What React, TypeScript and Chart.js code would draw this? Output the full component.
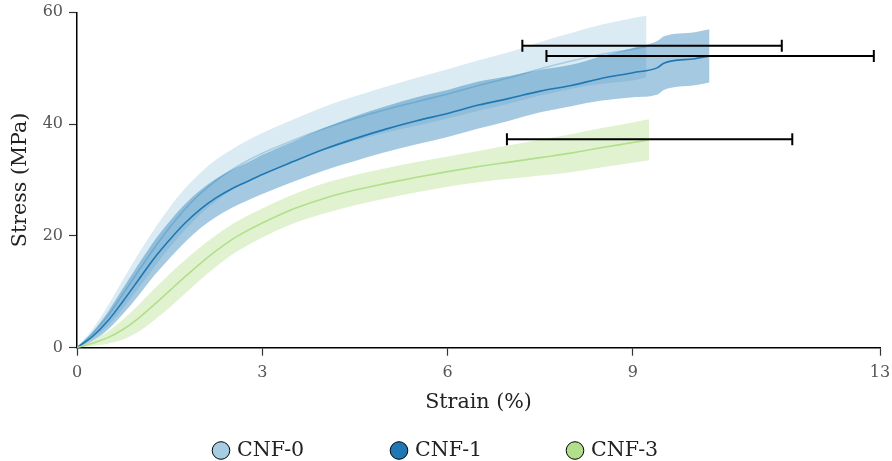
import React, { useEffect, useRef } from 'react';
import { Chart, registerables } from 'chart.js';

Chart.register(...registerables);

// ---------- data ----------
const SERIES_NAMES = ['CNF-0', 'CNF-1', 'CNF-3'];

const STRAIN_CNF0 = [0, 0.25, 0.5, 0.75, 1, 1.25, 1.5, 1.75, 2, 2.25, 2.5, 2.75, 3, 3.5, 4, 4.5, 5, 5.5, 6, 6.5, 7, 7.5, 8, 8.5, 9, 9.22];
const MEAN_CNF0 = [0, 2.5, 5.7, 9.7, 13.8, 17.8, 21.5, 24.8, 27.6, 29.9, 31.8, 33.4, 34.8, 37.1, 39.2, 41.0, 42.6, 44.0, 45.4, 46.9, 48.3, 49.9, 51.3, 52.5, 53.4, 53.9];
const SD_CNF0 = [0, 0.8, 1.8, 2.6, 3.1, 3.4, 3.6, 3.7, 3.7, 3.7, 3.6, 3.6, 3.6, 3.7, 3.9, 4.0, 4.1, 4.3, 4.4, 4.5, 4.6, 4.8, 5.0, 5.3, 5.6, 5.5];

const STRAIN_CNF1 = [0, 0.25, 0.5, 0.75, 1, 1.25, 1.5, 1.75, 2, 2.25, 2.5, 2.75, 3, 3.5, 4, 4.5, 5, 5.5, 6, 6.5, 7, 7.5, 8, 8.5, 9, 9.4, 9.5, 10, 10.24];
const MEAN_CNF1 = [0, 2.0, 4.8, 8.4, 12.2, 16.0, 19.3, 22.3, 24.8, 26.8, 28.4, 29.7, 31.0, 33.3, 35.5, 37.4, 39.1, 40.6, 41.9, 43.4, 44.6, 45.9, 46.9, 48.2, 49.2, 50.1, 50.9, 51.7, 52.2];
const SD_CNF1 = [0, 0.8, 1.6, 2.3, 2.8, 3.1, 3.3, 3.4, 3.4, 3.4, 3.4, 3.4, 3.5, 3.6, 3.8, 4.0, 4.1, 4.2, 4.2, 4.2, 4.0, 3.8, 3.7, 4.0, 4.4, 4.8, 4.8, 4.75, 4.75];

const STRAIN_CNF3 = [0, 0.25, 0.5, 0.75, 1, 1.25, 1.5, 1.75, 2, 2.25, 2.5, 2.75, 3, 3.5, 4, 4.5, 5, 5.5, 6, 6.5, 7, 7.5, 8, 8.5, 9, 9.26];
const MEAN_CNF3 = [0, 0.8, 1.8, 3.3, 5.3, 7.7, 10.2, 12.7, 15.1, 17.3, 19.3, 20.9, 22.3, 24.8, 26.7, 28.2, 29.4, 30.5, 31.5, 32.4, 33.2, 34.0, 34.8, 35.8, 36.7, 37.2];
const SD_CNF3 = [0, 0.5, 1.1, 1.8, 2.4, 2.8, 3.0, 3.0, 2.9, 2.8, 2.7, 2.65, 2.6, 2.6, 2.7, 2.7, 2.7, 2.7, 2.7, 2.8, 3.0, 3.2, 3.4, 3.5, 3.6, 3.65];

// failure points: mean strain at break, its std, and stress at break
const FAIL_STRAIN = [9.31, 10.25, 9.27];
const FAIL_STRAIN_SD = [2.1, 2.65, 2.31];
const FAIL_STRESS = [54.0, 52.2, 37.3];

const X_TICKS = [0, 3, 6, 9, 13];
const Y_TICKS = [0, 20, 40, 60];

// ---------- style ----------
const COLORS = ['#a6cee3', '#1f78b4', '#b2df8a'];
const BAND_COLORS = ['rgba(166,206,227,0.4)', 'rgba(31,120,180,0.4)', 'rgba(178,223,138,0.4)'];
const FONT = 'DejaVu Serif';
const LEGEND_CX = [221, 399, 575];
const LEGEND_BASELINE = 456;
const LEGEND_DOT_Y = 450.5;

const SERIES = [
  { strain: STRAIN_CNF0, mean: MEAN_CNF0, sd: SD_CNF0 },
  { strain: STRAIN_CNF1, mean: MEAN_CNF1, sd: SD_CNF1 },
  { strain: STRAIN_CNF3, mean: MEAN_CNF3, sd: SD_CNF3 },
];

function buildDatasets() {
  const ds: any[] = [];
  SERIES.forEach((s, i) => {
    const base = (SERIES.length - i) * 3;
    const upper = s.strain.map((x, k) => ({ x, y: s.mean[k] + s.sd[k] }));
    const lower = s.strain.map((x, k) => ({ x, y: s.mean[k] - s.sd[k] }));
    const mean = s.strain.map((x, k) => ({ x, y: s.mean[k] }));
    const common = { pointRadius: 0, pointHoverRadius: 0, cubicInterpolationMode: 'monotone' };
    ds.push({ ...common, label: SERIES_NAMES[i] + ' upper', data: upper, borderWidth: 0, borderColor: 'rgba(0,0,0,0)', backgroundColor: BAND_COLORS[i], fill: '+1', order: base + 2 });
    ds.push({ ...common, label: SERIES_NAMES[i] + ' lower', data: lower, borderWidth: 0, borderColor: 'rgba(0,0,0,0)', fill: false, order: base + 1 });
    ds.push({ ...common, label: SERIES_NAMES[i], data: mean, borderWidth: 1.6, borderColor: COLORS[i], fill: false, order: base });
  });
  return ds;
}

const errorBarPlugin = {
  id: 'errorBars',
  afterDatasetsDraw(chart: any) {
    const { ctx, scales } = chart;
    const xs = scales.x;
    const ys = scales.y;
    ctx.save();
    ctx.strokeStyle = '#000';
    ctx.lineWidth = 2;
    FAIL_STRAIN.forEach((m, i) => {
      const yy = ys.getPixelForValue(FAIL_STRESS[i]);
      const x0 = xs.getPixelForValue(m - FAIL_STRAIN_SD[i]);
      const x1 = xs.getPixelForValue(m + FAIL_STRAIN_SD[i]);
      ctx.beginPath();
      ctx.moveTo(x0, yy);
      ctx.lineTo(x1, yy);
      ctx.moveTo(x0, yy - 6);
      ctx.lineTo(x0, yy + 6);
      ctx.moveTo(x1, yy - 6);
      ctx.lineTo(x1, yy + 6);
      ctx.stroke();
    });
    ctx.restore();
  },
};

const legendPlugin = {
  id: 'dotLegend',
  afterDraw(chart: any) {
    const { ctx } = chart;
    ctx.save();
    ctx.font = `20.6px "${FONT}"`;
    ctx.textBaseline = 'alphabetic';
    ctx.textAlign = 'left';
    SERIES_NAMES.forEach((name, i) => {
      const cx = LEGEND_CX[i];
      ctx.beginPath();
      ctx.arc(cx, LEGEND_DOT_Y, 8.8, 0, Math.PI * 2);
      ctx.fillStyle = COLORS[i];
      ctx.fill();
      ctx.lineWidth = 1;
      ctx.strokeStyle = '#000';
      ctx.stroke();
      ctx.fillStyle = '#222';
      ctx.fillText(name, cx + 16, LEGEND_BASELINE);
    });
    ctx.restore();
  },
};

export default function App() {
  const ref = useRef<HTMLCanvasElement>(null);
  useEffect(() => {
    if (!ref.current) return;
    const chart = new Chart(ref.current, {
      type: 'line',
      data: { datasets: buildDatasets() },
      options: {
        responsive: false,
        animation: false,
        devicePixelRatio: 1,
        layout: { padding: { top: 12.3, right: 12, bottom: 45.6, left: 0 } },
        plugins: {
          legend: { display: false },
          tooltip: { enabled: false },
        },
        scales: {
          x: {
            type: 'linear',
            min: 0,
            max: 13,
            afterBuildTicks: (s: any) => {
              s.ticks = X_TICKS.map((v) => ({ value: v }));
            },
            afterFit: (s: any) => {
              s.paddingLeft = 0;
              s.paddingRight = 0;
            },
            grid: { drawOnChartArea: false, drawTicks: true, tickLength: 8, color: '#333', tickWidth: 1.2 },
            border: { display: true, color: '#000', width: 1.5 },
            ticks: { font: { family: FONT, size: 16 }, color: '#555', padding: 7.4, maxRotation: 0, autoSkip: false },
            title: { display: true, text: 'Strain (%)', font: { family: FONT, size: 20.6 }, color: '#222', padding: { top: 1, bottom: 0 } },
          },
          y: {
            type: 'linear',
            min: 0,
            max: 60,
            afterBuildTicks: (s: any) => {
              s.ticks = Y_TICKS.map((v) => ({ value: v }));
            },
            afterFit: (s: any) => {
              s.width = 77;
              s.paddingTop = 0;
              s.paddingBottom = 0;
            },
            grid: { drawOnChartArea: false, drawTicks: true, tickLength: 8, color: '#333', tickWidth: 1.2 },
            border: { display: true, color: '#000', width: 1.5 },
            ticks: { font: { family: FONT, size: 16 }, color: '#555', padding: 6 },
            title: { display: true, text: 'Stress (MPa)', font: { family: FONT, size: 20.6 }, color: '#222', padding: { top: 8.5, bottom: 0 } },
          },
        },
      } as any,
      plugins: [errorBarPlugin, legendPlugin],
    });
    return () => chart.destroy();
  }, []);
  return (
    <div style={{ position: 'fixed', left: 0, top: 0, width: 892, height: 461, background: '#fff' }}>
      <canvas ref={ref} width={892} height={461} style={{ display: 'block', width: 892, height: 461 }} />
    </div>
  );
}
